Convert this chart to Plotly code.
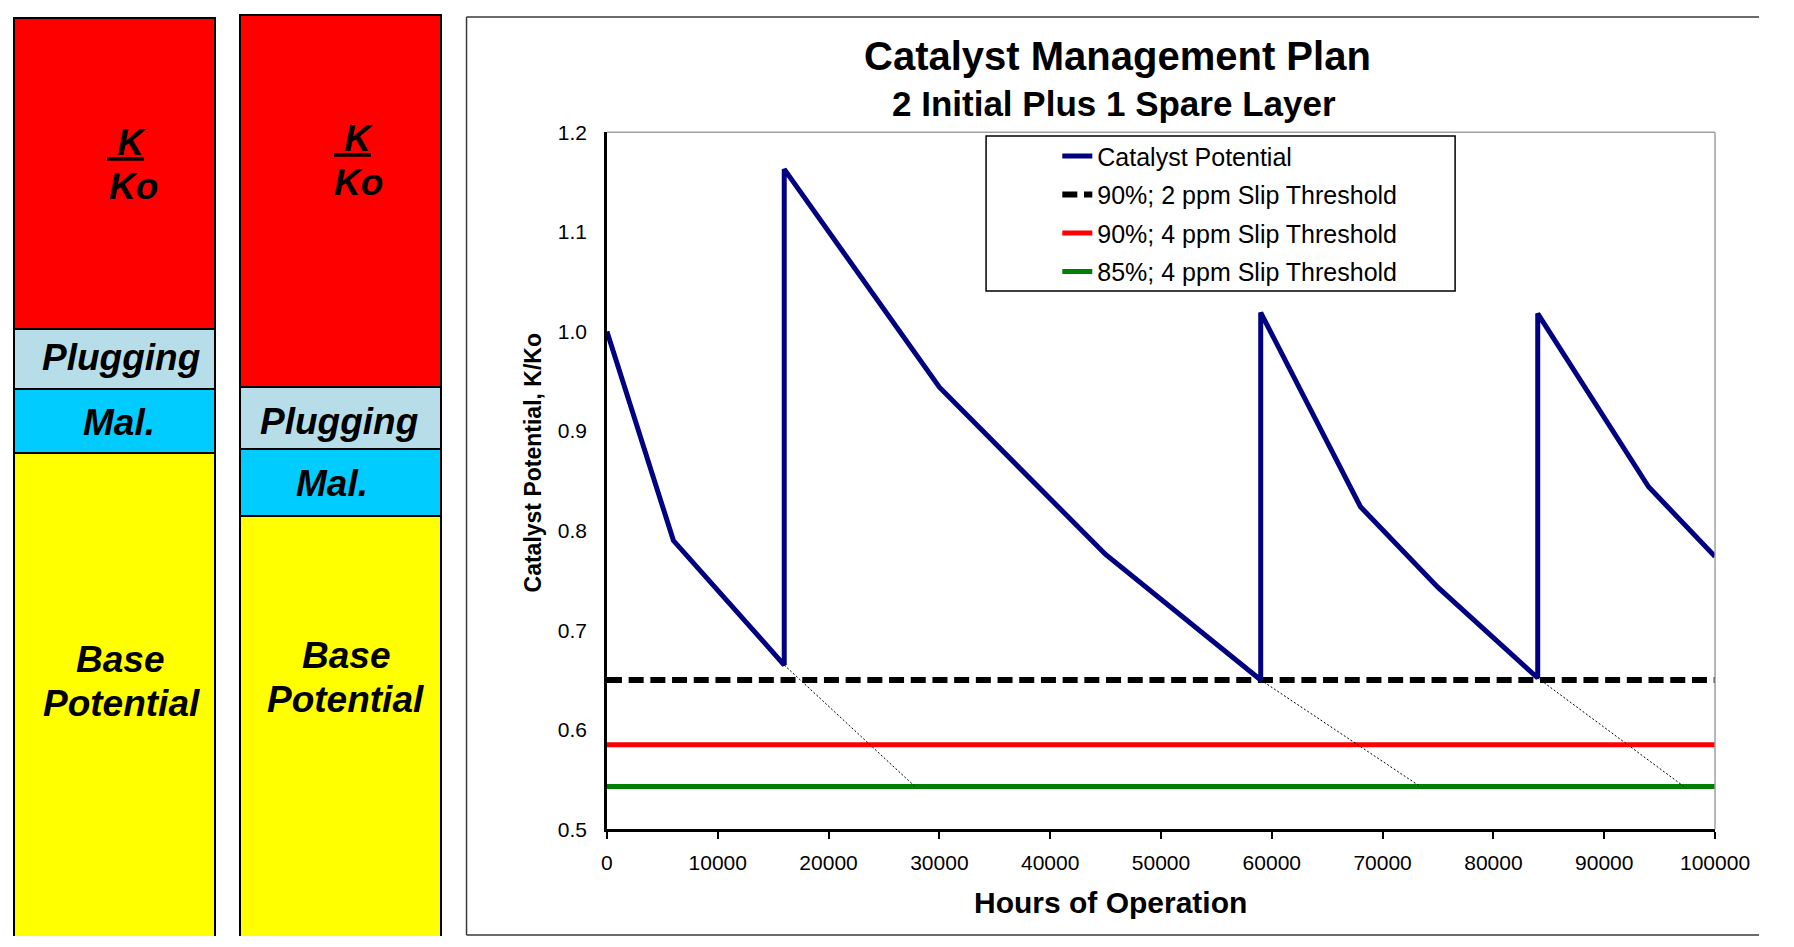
import plotly.graph_objects as go

W, H = 1794, 947
FONT = "Liberation Sans, Arial, sans-serif"

# ---- catalyst potential history (hours of operation vs K/Ko) ----
hours = [0, 6000, 16000, 16000, 30000, 45000, 59000, 59000,
         68000, 75000, 84000, 84000, 94000, 100000]
potential = [1.000, 0.790, 0.665, 1.163, 0.944, 0.776, 0.650, 1.019,
             0.824, 0.743, 0.652, 1.018, 0.844, 0.774]

# ---- slip thresholds ----
threshold_names = ["90%; 2 ppm Slip Threshold",
                   "90%; 4 ppm Slip Threshold",
                   "85%; 4 ppm Slip Threshold"]
threshold_values = [0.650, 0.585, 0.543]
threshold_span = [0, 100000]

# ---- extrapolated decline past each replacement point ----
extrap_hours = [[16000, 27800], [59000, 73400], [84000, 97200]]
extrap_potential = [[0.665, 0.543], [0.650, 0.543], [0.652, 0.543]]

# ---- potential breakdown columns (stacked, bottom to top) ----
layer_names = ["Base Potential", "Mal.", "Plugging", "K/Ko"]
column_a = [52.7, 6.9, 6.5, 33.6]
column_b = [45.9, 7.2, 6.7, 40.3]
layer_colors = ["#FFFF00", "#00CCFF", "#B7DEE8", "#FF0000"]


def px(x):
    return x / W


def py(y):
    return 1 - y / H


fig = go.Figure()

# stacked breakdown columns
for name, a, b, col in zip(layer_names, column_a, column_b, layer_colors):
    fig.add_trace(go.Bar(
        x=[0, 1], y=[a, b], name=name, width=0.888,
        marker=dict(color=col, line=dict(color="black", width=2.5)),
        xaxis="x2", yaxis="y2", showlegend=False, hoverinfo="skip",
    ))

# threshold lines
thr_styles = [dict(color="black", width=6, dash="15px,6.7px"),
              dict(color="#FF0000", width=5),
              dict(color="#008000", width=5)]
for i, (name, val, st) in enumerate(zip(threshold_names, threshold_values, thr_styles)):
    fig.add_trace(go.Scatter(
        x=threshold_span, y=[val, val], mode="lines", name=name,
        line=st, legendrank=2 + i, legendgroup=f"thr{i}",
    ))

# extrapolated decline lines
for xs, ys in zip(extrap_hours, extrap_potential):
    fig.add_trace(go.Scatter(
        x=xs, y=ys, mode="lines", showlegend=False,
        line=dict(color="black", width=1, dash="2px,2px"),
    ))

# catalyst potential
fig.add_trace(go.Scatter(
    x=hours, y=potential, mode="lines", name="Catalyst Potential",
    line=dict(color="#000080", width=5), legendrank=1, legendgroup="kko",
))

ann_font = dict(family=FONT, size=37, color="black", weight="bold", style="italic")
col_labels = [
    ("<u>&nbsp;K</u>", 123, 133.9), ("Ko", 130, 178.9),
    ("Plugging", 117.5, 353.9), ("Mal.", 115.5, 420.5),
    ("Base", 116.7, 663.5), ("Potential", 117.7, 708.8),
    ("<u>&nbsp;K</u>", 355.5, 129.9), ("Ko", 361, 174.9),
    ("Plugging", 341, 419.5), ("Mal.", 333.8, 482.9),
    ("Base", 347.5, 659.2), ("Potential", 347.7, 704.6),
]
annotations = [
    dict(text=t, x=px(x), y=py(y), xref="paper", yref="paper",
         xanchor="center", yanchor="middle", showarrow=False, font=ann_font)
    for t, x, y in col_labels
]
annotations += [
    dict(text="Catalyst Management Plan", x=px(1138), y=py(45.3),
         xref="paper", yref="paper", showarrow=False,
         xanchor="center", yanchor="middle",
         font=dict(family=FONT, size=40, color="black", weight="bold")),
    dict(text="2 Initial Plus 1 Spare Layer", x=px(1134), y=py(93.6),
         xref="paper", yref="paper", showarrow=False,
         xanchor="center", yanchor="middle",
         font=dict(family=FONT, size=35, color="black", weight="bold")),
    dict(text="Hours of Operation", x=px(1130.5), y=py(912.6),
         xref="paper", yref="paper", showarrow=False,
         xanchor="center", yanchor="middle",
         font=dict(family=FONT, size=30, color="black", weight="bold")),
    dict(text="Catalyst Potential, K/Ko", x=px(539), y=py(462),
         xref="paper", yref="paper", showarrow=False, textangle=-90,
         xanchor="center", yanchor="middle",
         font=dict(family=FONT, size=23, color="black", weight="bold")),
]

frame = dict(color="#3A3A3A", width=1.5)
shapes = [
    # chart frame (open on the right, running off the page edge)
    dict(type="line", xref="paper", yref="paper",
         x0=px(471.3), x1=1, y0=py(5), y1=py(5), line=frame),
    dict(type="line", xref="paper", yref="paper",
         x0=px(471.3), x1=1, y0=py(946), y1=py(946), line=frame),
    dict(type="line", xref="paper", yref="paper",
         x0=px(471.3), x1=px(471.3), y0=py(5), y1=py(946), line=frame),
    # plot area top and right edges
    dict(type="line", xref="paper", yref="paper",
         x0=px(615), x1=px(1749), y0=py(123.3), y1=py(123.3),
         line=dict(color="#A0A0A0", width=1.5)),
    dict(type="line", xref="paper", yref="paper",
         x0=px(1749), x1=px(1749), y0=py(123.3), y1=py(837.7),
         line=dict(color="#A0A0A0", width=1.5)),
    # legend frame
    dict(type="rect", xref="paper", yref="paper",
         x0=px(1003), x1=px(1483), y0=py(286), y1=py(127),
         line=dict(color="black", width=1.5)),
]

fig.update_layout(
    autosize=True,
    margin=dict(l=0, r=0, t=0, b=0),
    paper_bgcolor="white", plot_bgcolor="white",
    font=dict(family=FONT, color="black"),
    barmode="stack", bargap=0,
    showlegend=True,
    legend=dict(
        x=px(1075.9), y=py(124.3), xanchor="left", yanchor="top",
        bgcolor="rgba(0,0,0,0)", borderwidth=0,
        font=dict(family=FONT, size=25, color="black"),
        traceorder="grouped", tracegroupgap=2.95,
    ),
    xaxis=dict(
        domain=[px(615), px(1749)], range=[0, 100000], dtick=10000,
        tickformat="d",
        showgrid=False, zeroline=False,
        showline=True, linecolor="black", linewidth=2.5,
        ticks="outside", ticklen=7, tickwidth=2, tickcolor="black",
        tickfont=dict(family=FONT, size=21, color="black"),
        ticklabelstandoff=6,
    ),
    yaxis=dict(
        domain=[py(837.7), py(123.3)], range=[0.5, 1.2], dtick=0.1,
        tickformat=".1f",
        showgrid=False, zeroline=False,
        showline=True, linecolor="black", linewidth=2.5,
        ticks="",
        tickfont=dict(family=FONT, size=21, color="black"),
        ticklabelstandoff=13,
    ),
    xaxis2=dict(domain=[0, px(471)], range=[-0.4799, 1.5564],
                visible=False, anchor="y2"),
    yaxis2=dict(domain=[0, 1], range=[0.4, 100.4],
                visible=False, anchor="x2"),
    annotations=annotations,
    shapes=shapes,
)

# graph div pinned to the window corner at the full window size
fig.write_html(
    "out.html",
    default_width=f"{W}px",
    default_height=f"{H}px; position:fixed; left:0; top:0",
)
